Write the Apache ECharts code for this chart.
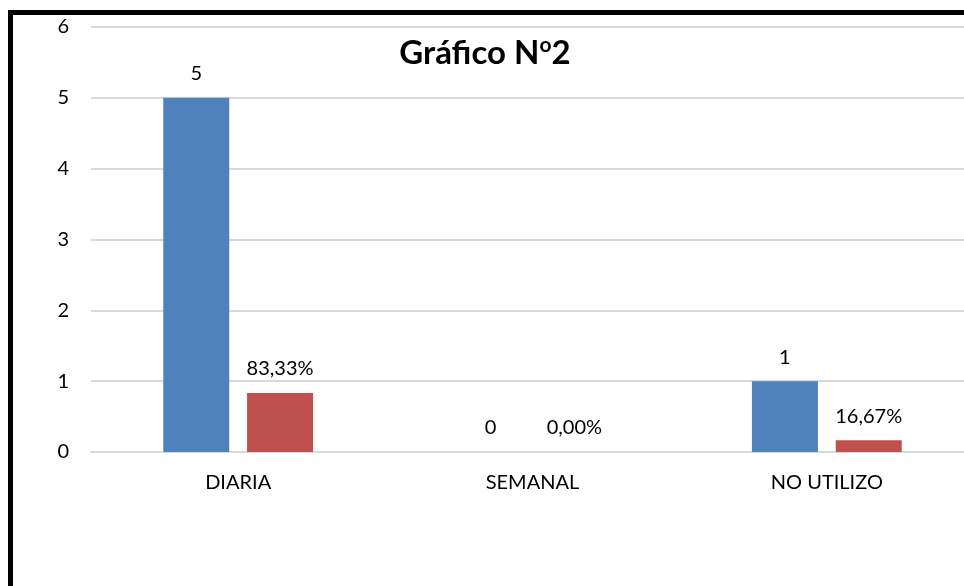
<!DOCTYPE html>
<html>
<head>
<meta charset="utf-8">
<script src="https://cdn.jsdelivr.net/npm/echarts@6/dist/echarts.min.js"></script>
<style>
  html, body { margin: 0; padding: 0; background: #fff; }
  #chart { width: 964px; height: 586px; }
</style>
</head>
<body>
<div id="chart"></div>
<script>
// datos
const categorias = ['DIARIA', 'SEMANAL', 'NO UTILIZO']
const frecuencia = [5, 0, 1]
const porcentaje = [0.8333, 0, 0.1667]
const tickLabels = [0, 1, 2, 3, 4, 5, 6]

const fuente = 'Lato'

const chart = echarts.init(document.getElementById('chart'))

const option = {
  backgroundColor: '#fff',
  animation: false,
  title: {
    text: '{a|Gráfico N}{b|o}{a|2}',
    left: 480,
    textAlign: 'center',
    top: 30,
    textStyle: {
      rich: {
        a: { fontFamily: fuente, fontWeight: 'bold', fontSize: 33, color: '#000' },
        b: { fontFamily: fuente, fontWeight: 'bold', fontSize: 21, color: '#000', padding: [0, 0, 16, 0] }
      }
    }
  },
  graphic: [
    // marco negro (borde superior e izquierdo)
    { type: 'rect', shape: { x: 8, y: 10, width: 956, height: 5 }, style: { fill: '#000' }, z: 100 },
    { type: 'rect', shape: { x: 8, y: 10, width: 5, height: 576 }, style: { fill: '#000' }, z: 100 }
  ],
  grid: { left: 91, width: 883, top: 27, height: 425, outerBoundsMode: 'none' },
  xAxis: {
    type: 'category',
    data: categorias,
    axisLine: { show: true, lineStyle: { color: '#d9d9d9', width: 2 } },
    axisTick: { show: false },
    axisLabel: { margin: 21, fontFamily: fuente, fontSize: 20, color: '#000' }
  },
  yAxis: {
    type: 'value',
    min: tickLabels[0],
    max: tickLabels[tickLabels.length - 1],
    interval: 1,
    axisLine: { show: false },
    axisTick: { show: false },
    splitLine: { lineStyle: { color: '#d9d9d9', width: 2 } },
    axisLabel: { margin: 22, fontFamily: fuente, fontSize: 20, color: '#000' }
  },
  series: [
    {
      name: 'Frecuencia',
      type: 'bar',
      data: frecuencia,
      barWidth: 66,
      barGap: '27%',
      itemStyle: { color: '#4f81bd' },
      label: {
        show: true, position: 'top', distance: 14,
        fontFamily: fuente, fontSize: 20, color: '#000'
      }
    },
    {
      name: 'Porcentaje',
      type: 'bar',
      data: porcentaje,
      barWidth: 66,
      itemStyle: { color: '#c0504d' },
      label: {
        show: true, position: 'top', distance: 14,
        fontFamily: fuente, fontSize: 20, color: '#000',
        formatter: p => (p.value * 100).toFixed(2).replace('.', ',') + '%'
      }
    }
  ]
}

chart.setOption(option)
</script>
</body>
</html>
